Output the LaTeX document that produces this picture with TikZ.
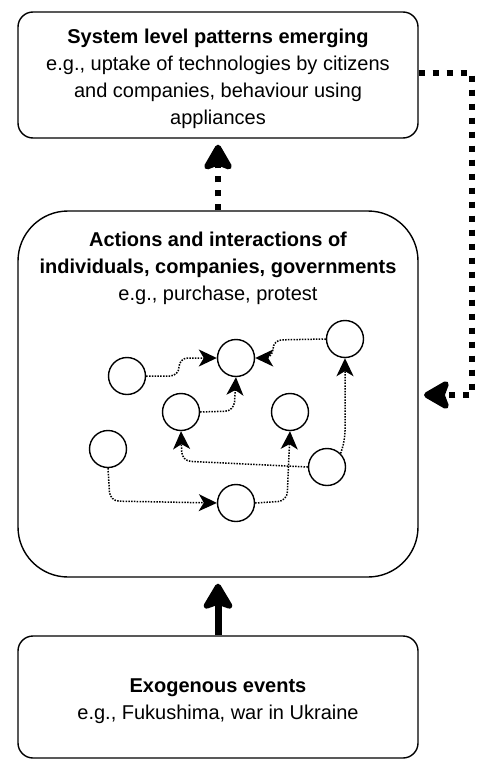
\documentclass[tikz,border=0pt]{standalone}
\usepackage{fontspec}
\setmainfont{Liberation Sans}
\usetikzlibrary{arrows.meta}
\begin{document}
\begin{tikzpicture}[x=1pt,y=-1pt,
  box/.style={draw, line width=1.4pt, rounded corners=#1, minimum width=400pt},
  txt/.style={align=center, font=\fontsize{20}{27}\selectfont, inner sep=0pt},
  agent/.style={circle, draw, line width=1.4pt, minimum size=37pt, inner sep=0pt},
  edge/.style={line width=1.5pt, dash pattern=on 1.5pt off 1.3pt, rounded corners=9pt,
    -{Stealth[length=18pt,width=17pt,inset=5pt]}},
  bigdot/.style={line width=6pt, dash pattern=on 6pt off 8pt,
    -{Stealth[length=30pt,width=34pt,inset=6pt,round]}, shorten >=6pt},
  bigsolid/.style={line width=7pt,
    -{Stealth[length=30pt,width=35pt,inset=6pt,round]}, shorten >=6pt}
]
\useasboundingbox (0,0) rectangle (486,760);

% boxes
\node[box=15pt, minimum height=126pt] (top) at (218,75) {};
\node[txt] (toptext) at (218,79) {\textbf{System level patterns emerging}\\e.g., uptake of technologies by citizens\\and companies, behaviour using\\appliances};

\node[box=50pt, minimum height=366pt] (mid) at (218,394) {};
\node[txt] (midtext) at (218,268) {\textbf{Actions and interactions of}\\\textbf{individuals, companies, governments}\\e.g., purchase, protest};

\node[box=15pt, minimum height=122pt] (bot) at (218,697) {};
\node[txt] (bottext) at (218,701) {\textbf{Exogenous events}\\e.g., Fukushima, war in Ukraine};

% agents
\node[agent] (c1) at (127,376) {};
\node[agent] (c2) at (236,358) {};
\node[agent] (c3) at (345,339) {};
\node[agent] (c4) at (181,412) {};
\node[agent] (c5) at (290,412) {};
\node[agent] (c6) at (108,449) {};
\node[agent] (c7) at (327,467) {};
\node[agent] (c8) at (236,503) {};

% interactions
\draw[edge] (c1.east) -- (179,376) -- (179,358) -- (c2.west);
\draw[edge] (c4.east) -- (234,411) -- (c2.south);
\draw[edge] (c3.west) -- (273,340) -- (273,358) -- (c2.east);
\draw[edge] (c7.north east) -- (345,440) -- (c3.south);
\draw[edge] (c7.west) -- (182,461) -- (c4.south);
\draw[edge] (c6.south) -- (110,501) -- (c8.west);
\draw[edge] (c8.east) -- (287,501) -- (c5.south);

% main arrows
\coordinate (fbA) at (472,73);
\coordinate (fbB) at (472,395);
\coordinate (midR) at (418,395);
\draw[bigsolid] (bot.north) -- (mid.south);
\draw[bigdot] (mid.north) -- (top.south);
\draw[bigdot] (top.east |- fbA) -- (fbA) -- (fbB) -- (midR);
\end{tikzpicture}
\end{document}
